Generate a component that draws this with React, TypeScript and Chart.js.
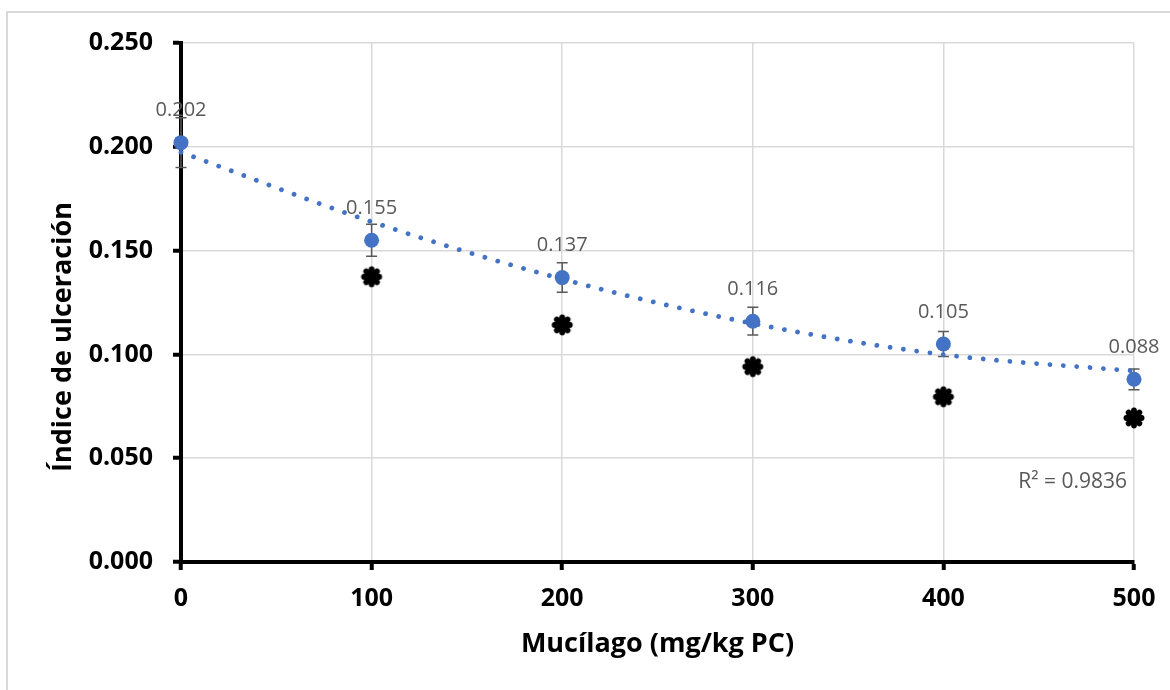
import React, { useEffect, useRef } from "react";
import { Chart, registerables } from "chart.js";

Chart.register(...registerables);

// ---- data ----
const doses = [0, 100, 200, 300, 400, 500];
const ulcerIndex = [0.202, 0.155, 0.137, 0.116, 0.105, 0.088];
const errorMargins = [0.012, 0.0077, 0.0071, 0.0067, 0.006, 0.005];

const sigDoses = [100, 200, 300, 400, 500];
const sigValues = [0.1374, 0.1142, 0.0941, 0.0796, 0.0694];

const trendDoses = [0, 100, 200, 300, 400, 500];
const trendValues = [0.1974, 0.1639, 0.1363, 0.1149, 0.0999, 0.092];

const rSquaredText = "R² = 0.9836";
const xTitle = "Mucílago (mg/kg PC)";
const yTitle = "Índice de ulceración";

const FONT = '"Open Sans", "Noto Sans", sans-serif';
const BLUE = "#4472C4";

function makeAsterisk(): HTMLCanvasElement {
  const c = document.createElement("canvas");
  c.width = 26;
  c.height = 26;
  const g = c.getContext("2d")!;
  g.strokeStyle = "#000";
  g.lineWidth = 5.8;
  g.lineCap = "round";
  const r = 7.6;
  for (let i = 0; i < 4; i++) {
    const a = (i * Math.PI) / 4;
    g.beginPath();
    g.moveTo(13 - r * Math.cos(a), 13 - r * Math.sin(a));
    g.lineTo(13 + r * Math.cos(a), 13 + r * Math.sin(a));
    g.stroke();
  }
  return c;
}

const errorBarPlugin = {
  id: "errorBars",
  beforeDatasetsDraw(chart: any) {
    const { ctx, scales } = chart;
    const xs = scales.x;
    const ys = scales.y;
    ctx.save();
    ctx.strokeStyle = "#595959";
    ctx.lineWidth = 1.5;
    doses.forEach((d, i) => {
      const px = xs.getPixelForValue(d);
      const top = ys.getPixelForValue(ulcerIndex[i] + errorMargins[i]);
      const bot = ys.getPixelForValue(ulcerIndex[i] - errorMargins[i]);
      ctx.beginPath();
      ctx.moveTo(px, top);
      ctx.lineTo(px, bot);
      ctx.moveTo(px - 5.5, top);
      ctx.lineTo(px + 5.5, top);
      ctx.moveTo(px - 5.5, bot);
      ctx.lineTo(px + 5.5, bot);
      ctx.stroke();
    });
    ctx.restore();
  },
};

const labelPlugin = {
  id: "valueLabels",
  afterDatasetsDraw(chart: any) {
    const { ctx, chartArea, scales } = chart;
    const meta = chart.getDatasetMeta(0);
    ctx.save();
    ctx.font = `20px ${FONT}`;
    ctx.fillStyle = "#595959";
    ctx.textAlign = "center";
    ctx.textBaseline = "middle";
    meta.data.forEach((el: any, i: number) => {
      ctx.fillText(ulcerIndex[i].toFixed(3), el.x, el.y - 32);
    });
    ctx.font = `21px ${FONT}`;
    ctx.textAlign = "right";
    ctx.fillText(rSquaredText, chartArea.right - 7, scales.y.getPixelForValue(0.0385));
    ctx.restore();
  },
  afterDraw(chart: any) {
    const { ctx } = chart;
    ctx.save();
    ctx.translate(71, 337);
    ctx.rotate(-Math.PI / 2);
    ctx.font = `bold 27px ${FONT}`;
    ctx.fillStyle = "#000";
    ctx.textAlign = "center";
    ctx.textBaseline = "alphabetic";
    ctx.fillText(yTitle, 0, 0);
    ctx.restore();
  },
};

export default function App() {
  const canvasRef = useRef<HTMLCanvasElement | null>(null);

  useEffect(() => {
    if (!canvasRef.current) return;
    const asterisk = makeAsterisk();
    const tickFont = { family: FONT, size: 25, weight: "bold" as const };
    const chart = new Chart(canvasRef.current, {
      type: "scatter",
      data: {
        datasets: [
          {
            label: "Índice",
            data: doses.map((d, i) => ({ x: d, y: ulcerIndex[i] })),
            backgroundColor: BLUE,
            borderColor: BLUE,
            pointRadius: 7.5,
            pointBorderWidth: 0,
            showLine: false,
            clip: false as any,
          },
          {
            label: "Tendencia",
            data: trendDoses.map((d, i) => ({ x: d, y: trendValues[i] })),
            borderColor: BLUE,
            borderWidth: 4.8,
            borderDash: [0.001, 13.4],
            borderCapStyle: "round",
            pointRadius: 0,
            showLine: true,
            cubicInterpolationMode: "monotone",
            clip: false as any,
          },
          {
            label: "Significancia",
            data: sigDoses.map((d, i) => ({ x: d, y: sigValues[i] })),
            pointStyle: asterisk as any,
            pointRadius: 10,
            showLine: false,
            clip: false as any,
          },
        ],
      },
      options: {
        animation: false,
        responsive: false,
        layout: { padding: { top: 43, right: 36, bottom: 0, left: 0 } },
        plugins: {
          legend: { display: false },
          tooltip: { enabled: false },
        },
        scales: {
          x: {
            type: "linear",
            min: 0,
            max: 500,
            ticks: { stepSize: 100, font: tickFont, color: "#000", padding: 14 },
            grid: {
              color: "#D9D9D9",
              lineWidth: 1.5,
              tickColor: "#000",
              tickWidth: 4,
              tickLength: 8,
            },
            border: { color: "#000", width: 4 },
            title: {
              display: true,
              text: xTitle,
              font: { family: FONT, size: 27, weight: "bold" },
              color: "#000",
              padding: { top: 0, bottom: 29 },
            },
            afterFit: (s: any) => {
              s.height = 128;
            },
          },
          y: {
            type: "linear",
            min: 0,
            max: 0.25,
            ticks: {
              stepSize: 0.05,
              font: tickFont,
              color: "#000",
              padding: 20,
              callback: (v: any) => Number(v).toFixed(3),
            },
            grid: {
              color: "#D9D9D9",
              lineWidth: 1.5,
              tickColor: "#000",
              tickWidth: 4,
              tickLength: 8,
            },
            border: { color: "#000", width: 4 },
            afterFit: (s: any) => {
              s.width = 181;
            },
          },
        },
      } as any,
      plugins: [errorBarPlugin, labelPlugin],
    });
    return () => chart.destroy();
  }, []);

  return (
    <div
      style={{
        position: "fixed",
        left: 0,
        top: 0,
        width: 1170,
        height: 690,
        background: "#fff",
        overflow: "hidden",
      }}
    >
      <div
        style={{
          position: "absolute",
          left: 6,
          top: 11,
          width: 1200,
          height: 720,
          border: "2px solid #D9D9D9",
          boxSizing: "border-box",
        }}
      />
      <canvas
        ref={canvasRef}
        width={1170}
        height={690}
        style={{ position: "absolute", left: 0, top: 0, display: "block" }}
      />
    </div>
  );
}
